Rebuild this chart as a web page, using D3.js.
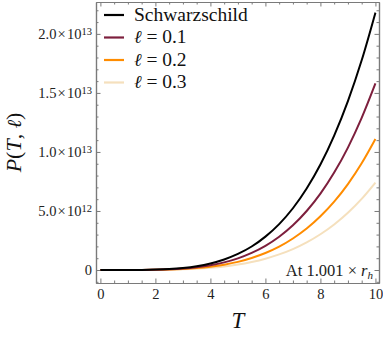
<!DOCTYPE html>
<html>
<head>
<meta charset="utf-8">
<script src="https://cdn.jsdelivr.net/npm/d3@7"></script>
<style>
  body { margin: 0; background: #fff; }
  svg text { font-family: "Liberation Serif", "Times New Roman", "DejaVu Serif", serif !important; }
  svg text tspan.ell { font-family: "DejaVu Serif", serif !important; }
</style>
</head>
<body>
<div id="chart"></div>
<script>
// temperature samples
const temps = [0, 0.5, 1, 1.5, 2, 2.5, 3, 3.5, 4, 4.5, 5, 5.5, 6, 6.5, 7, 7.5, 8, 8.5, 9, 9.5, 10];

// P(T, l) in units of 1e12
const schwarzschild = [0, 0.0001, 0.002, 0.011, 0.035, 0.085, 0.177, 0.327, 0.558, 0.894, 1.36, 1.99, 2.83, 3.89, 5.23, 6.90, 8.93, 11.38, 14.30, 17.76, 21.8];
const ell01 = [0, 0.0001, 0.0015, 0.008, 0.025, 0.062, 0.128, 0.237, 0.404, 0.648, 0.99, 1.45, 2.05, 2.82, 3.79, 5.00, 6.47, 8.25, 10.37, 12.88, 15.8];
const ell02 = [0, 0.0001, 0.001, 0.0056, 0.018, 0.043, 0.090, 0.167, 0.284, 0.455, 0.69, 1.02, 1.44, 1.98, 2.67, 3.51, 4.55, 5.79, 7.28, 9.04, 11.1];
const ell03 = [0, 0, 0.0007, 0.0037, 0.012, 0.029, 0.060, 0.111, 0.189, 0.303, 0.46, 0.68, 0.96, 1.32, 1.77, 2.34, 3.03, 3.86, 4.85, 6.02, 7.4];

const seriesNames = ["Schwarzschild", "0.1", "0.2", "0.3"];
const seriesColors = ["#000000", "#7d1f3d", "#ff8c00", "#f5e0bd"];

const xTicks = [0, 2, 4, 6, 8, 10];
const yTicks = [0, 5, 10, 15, 20];
const yTickMant = ["0", "5.0", "1.0", "1.5", "2.0"];
const yTickExp = ["", "12", "13", "13", "13"];

const W = 383, H = 339;
const pL = 96, pR = 379, pT = 2, pB = 283;

const svg = d3.select("#chart").append("svg")
  .attr("width", W).attr("height", H);

const x = d3.scaleLinear().domain([-0.16, 10.13]).range([pL, pR]);
const y = d3.scaleLinear().domain([-1.1, 22.7]).range([pB, pT]);

const frameColor = "#7a7a7a";

const xMinor = d3.range(-0.5, 10.5, 0.5).filter(v => v >= -0.16 && v <= 10.13 && v % 2 !== 0);
const yMinor = d3.range(-1, 23, 1).filter(v => v % 5 !== 0);

function styleAxis(g) {
  g.attr("font-family", null);
  g.selectAll("path").attr("stroke", frameColor).attr("stroke-width", 1.2);
  g.selectAll("line").attr("stroke", frameColor);
  g.selectAll("text").attr("fill", "#222").style("font-size", "14.5px");
}

// bottom
svg.append("g").attr("transform", `translate(0,${pB})`)
  .call(d3.axisBottom(x).tickValues(xTicks).tickSizeInner(-4.5).tickSizeOuter(0).tickPadding(6).tickFormat(d3.format("d")))
  .call(styleAxis);
svg.append("g").attr("transform", `translate(0,${pB})`)
  .call(d3.axisBottom(x).tickValues(xMinor).tickSizeInner(-2.5).tickSizeOuter(0).tickFormat(""))
  .call(styleAxis);
// top
svg.append("g").attr("transform", `translate(0,${pT})`)
  .call(d3.axisTop(x).tickValues(xTicks).tickSizeInner(-4.5).tickSizeOuter(0).tickFormat(""))
  .call(styleAxis);
svg.append("g").attr("transform", `translate(0,${pT})`)
  .call(d3.axisTop(x).tickValues(xMinor).tickSizeInner(-2.5).tickSizeOuter(0).tickFormat(""))
  .call(styleAxis);
// left
const yAx = svg.append("g").attr("transform", `translate(${pL},0)`)
  .call(d3.axisLeft(y).tickValues(yTicks).tickSizeInner(-4.5).tickSizeOuter(0).tickPadding(5).tickFormat(""))
  .call(styleAxis);
svg.append("g").attr("transform", `translate(${pL},0)`)
  .call(d3.axisLeft(y).tickValues(yMinor).tickSizeInner(-2.5).tickSizeOuter(0).tickFormat(""))
  .call(styleAxis);
// right
svg.append("g").attr("transform", `translate(${pR},0)`)
  .call(d3.axisRight(y).tickValues(yTicks).tickSizeInner(-4.5).tickSizeOuter(0).tickFormat(""))
  .call(styleAxis);
svg.append("g").attr("transform", `translate(${pR},0)`)
  .call(d3.axisRight(y).tickValues(yMinor).tickSizeInner(-2.5).tickSizeOuter(0).tickFormat(""))
  .call(styleAxis);

// y tick labels with superscript exponent
yAx.selectAll(".tick text").each(function(d, i) {
  const t = d3.select(this).attr("x", -4).attr("dy", "0.34em").style("font-size", "14.5px");
  t.append("tspan").text(yTickMant[i] + (yTickExp[i] ? "\u200a\u00d7\u200a10" : ""));
  if (yTickExp[i]) {
    t.append("tspan").attr("dy", "-0.45em").style("font-size", "10.5px").text(yTickExp[i]);
  }
});

// curves
svg.append("clipPath").attr("id", "clip").append("rect")
  .attr("x", pL).attr("y", pT).attr("width", pR - pL).attr("height", pB - pT);

const allSeries = [schwarzschild, ell01, ell02, ell03];
const line = d3.line()
  .x((d, i) => x(temps[i]))
  .y(d => y(d))
  .curve(d3.curveMonotoneX);

const order = [3, 2, 1, 0];
svg.append("g").attr("clip-path", "url(#clip)")
  .selectAll("path").data(order).join("path")
  .attr("d", k => line(allSeries[k]))
  .attr("fill", "none")
  .attr("stroke", k => seriesColors[k])
  .attr("stroke-width", 2);

// legend
const legY = [15, 37.5, 60, 82.5];
const leg = svg.append("g");
seriesNames.forEach((name, i) => {
  leg.append("line").attr("x1", 104).attr("x2", 124).attr("y1", legY[i]).attr("y2", legY[i])
    .attr("stroke", seriesColors[i]).attr("stroke-width", 2.2);
  const t = leg.append("text").attr("x", 134).attr("y", legY[i] + 5.5).style("font-size", "19.5px").attr("fill", "#111");
  if (i === 0) {
    t.text(name);
  } else {
    t.append("tspan").attr("class", "ell").style("font-style", "italic").style("font-size", "18px").text("\u2113");
    t.append("tspan").text(" = " + name);
  }
});

// annotation
const ann = svg.append("text").attr("x", 373).attr("y", 276).attr("text-anchor", "end")
  .style("font-size", "16.5px").attr("fill", "#222");
ann.append("tspan").text("At 1.001 \u00d7 ");
ann.append("tspan").style("font-style", "italic").text("r");
ann.append("tspan").style("font-style", "italic").style("font-size", "11px").attr("dy", "0.3em").text("h");

// axis labels
svg.append("text").attr("x", x(5)).attr("y", 328).attr("text-anchor", "middle")
  .style("font-size", "23px").style("font-style", "italic").attr("fill", "#111").text("T");

const yl = svg.append("text").attr("transform", `translate(21,${(pT + pB) / 2}) rotate(-90)`)
  .attr("text-anchor", "middle").style("font-size", "22px").attr("fill", "#111");
yl.append("tspan").style("font-style", "italic").text("P");
yl.append("tspan").text("(");
yl.append("tspan").style("font-style", "italic").text("T");
yl.append("tspan").text(", ");
yl.append("tspan").attr("class", "ell").style("font-style", "italic").style("font-size", "20px").text("\u2113");
yl.append("tspan").text(")");
</script>
</body>
</html>
